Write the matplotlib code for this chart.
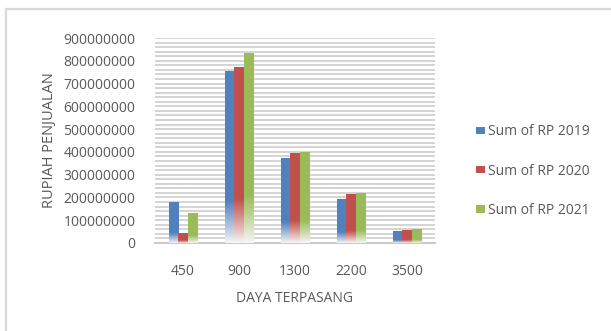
"""Clustered bar chart of sales value by installed power, 2019-2021."""

import numpy as np
import matplotlib.pyplot as plt
from matplotlib.colors import to_rgb
from matplotlib.lines import Line2D
from matplotlib.patches import Rectangle

# Data
categories = ["450", "900", "1300", "2200", "3500"]
series_names = ["Sum of RP 2019", "Sum of RP 2020", "Sum of RP 2021"]
rp_2019 = [180_000_000, 753_000_000, 374_000_000, 194_000_000, 51_000_000]
rp_2020 = [44_000_000, 773_000_000, 396_000_000, 214_000_000, 57_000_000]
rp_2021 = [133_000_000, 835_000_000, 400_000_000, 221_000_000, 61_000_000]
y_ticks = [0, 100_000_000, 200_000_000, 300_000_000, 400_000_000,
           500_000_000, 600_000_000, 700_000_000, 800_000_000, 900_000_000]

colors = ["#4F81BD", "#C0504D", "#9BBB59"]
FONT = "Open Sans"
FS = 10
TEXT_COLOR = "#595959"


def gradient_image(color, n=200, fade=0.25):
    """Vertical gradient: solid colour on top, fading to white near the base."""
    rgb = np.array(to_rgb(color))
    t = np.linspace(1.0, 0.0, n)  # top row first
    w = np.clip(t / fade, 0.0, 1.0)[:, None] ** 0.9
    img = rgb * w + np.ones(3) * (1 - w) * 0.97
    return img[:, None, :].repeat(2, axis=1)


fig = plt.figure(figsize=(6.11, 3.31), dpi=100)
ax = fig.add_axes([155 / 611, 1 - 243 / 331, 280 / 611, 205 / 331])

x = np.arange(len(categories))
bar_w = 0.167
values = [rp_2019, rp_2020, rp_2021]

for i, (vals, col) in enumerate(zip(values, colors)):
    offs = (i - 1) * bar_w
    bars = ax.bar(x + offs, vals, width=bar_w, facecolor="none",
                  edgecolor="none", zorder=3)
    img = gradient_image(col)
    for p in bars:
        x0, y0 = p.get_x(), p.get_y()
        im = ax.imshow(img, extent=[x0, x0 + p.get_width(), y0, y0 + p.get_height()],
                       aspect="auto", zorder=3, interpolation="bilinear")
        im.set_clip_path(p)

ax.set_xlim(-0.5, len(categories) - 0.5)
ax.set_ylim(0, 900_000_000)
ax.set_yticks(y_ticks)
ax.set_yticklabels([str(v) for v in y_ticks])
ax.set_yticks(np.arange(0, 900_000_001, 20_000_000), minor=True)
ax.set_xticks(x)
ax.set_xticklabels(categories)

ax.grid(True, axis="y", which="both", color="#c9c9c9", lw=1.1, zorder=0)
ax.set_axisbelow(True)
for side in ["top", "right", "left"]:
    ax.spines[side].set_visible(False)
ax.spines["bottom"].set_color("#c9c9c9")
ax.spines["bottom"].set_linewidth(1.4)
ax.tick_params(which="both", length=0)
ax.tick_params(axis="y", pad=14, labelsize=FS, labelcolor=TEXT_COLOR)
ax.tick_params(axis="x", pad=15, labelsize=FS, labelcolor=TEXT_COLOR)
for lbl in ax.get_xticklabels() + ax.get_yticklabels():
    lbl.set_fontfamily(FONT)

ax.set_ylabel("RUPIAH PENJUALAN", fontsize=10.5, color=TEXT_COLOR,
              family=FONT, labelpad=5)
ax.set_xlabel("DAYA TERPASANG", fontsize=FS, color=TEXT_COLOR,
              family=FONT, labelpad=9)

handles = [Rectangle((0, 0), 1, 1, facecolor=c, edgecolor="none") for c in colors]
fig.legend(handles, series_names, loc="center left",
           bbox_to_anchor=(0.758, 0.483), frameon=False,
           handlelength=0.65, handleheight=0.45, handletextpad=0.25,
           labelspacing=1.75, prop={"family": FONT, "size": FS},
           labelcolor=TEXT_COLOR)

# chart-area frame lines along the top and left edges
fig.add_artist(Line2D([5.5 / 611, 5.5 / 611], [0, 1 - 9 / 331],
                      color="#d9d9d9", lw=1.6, transform=fig.transFigure))
fig.add_artist(Line2D([5.5 / 611, 1], [1 - 9 / 331, 1 - 9 / 331],
                      color="#d9d9d9", lw=1.6, transform=fig.transFigure))

fig.savefig("out.png", dpi=100)
